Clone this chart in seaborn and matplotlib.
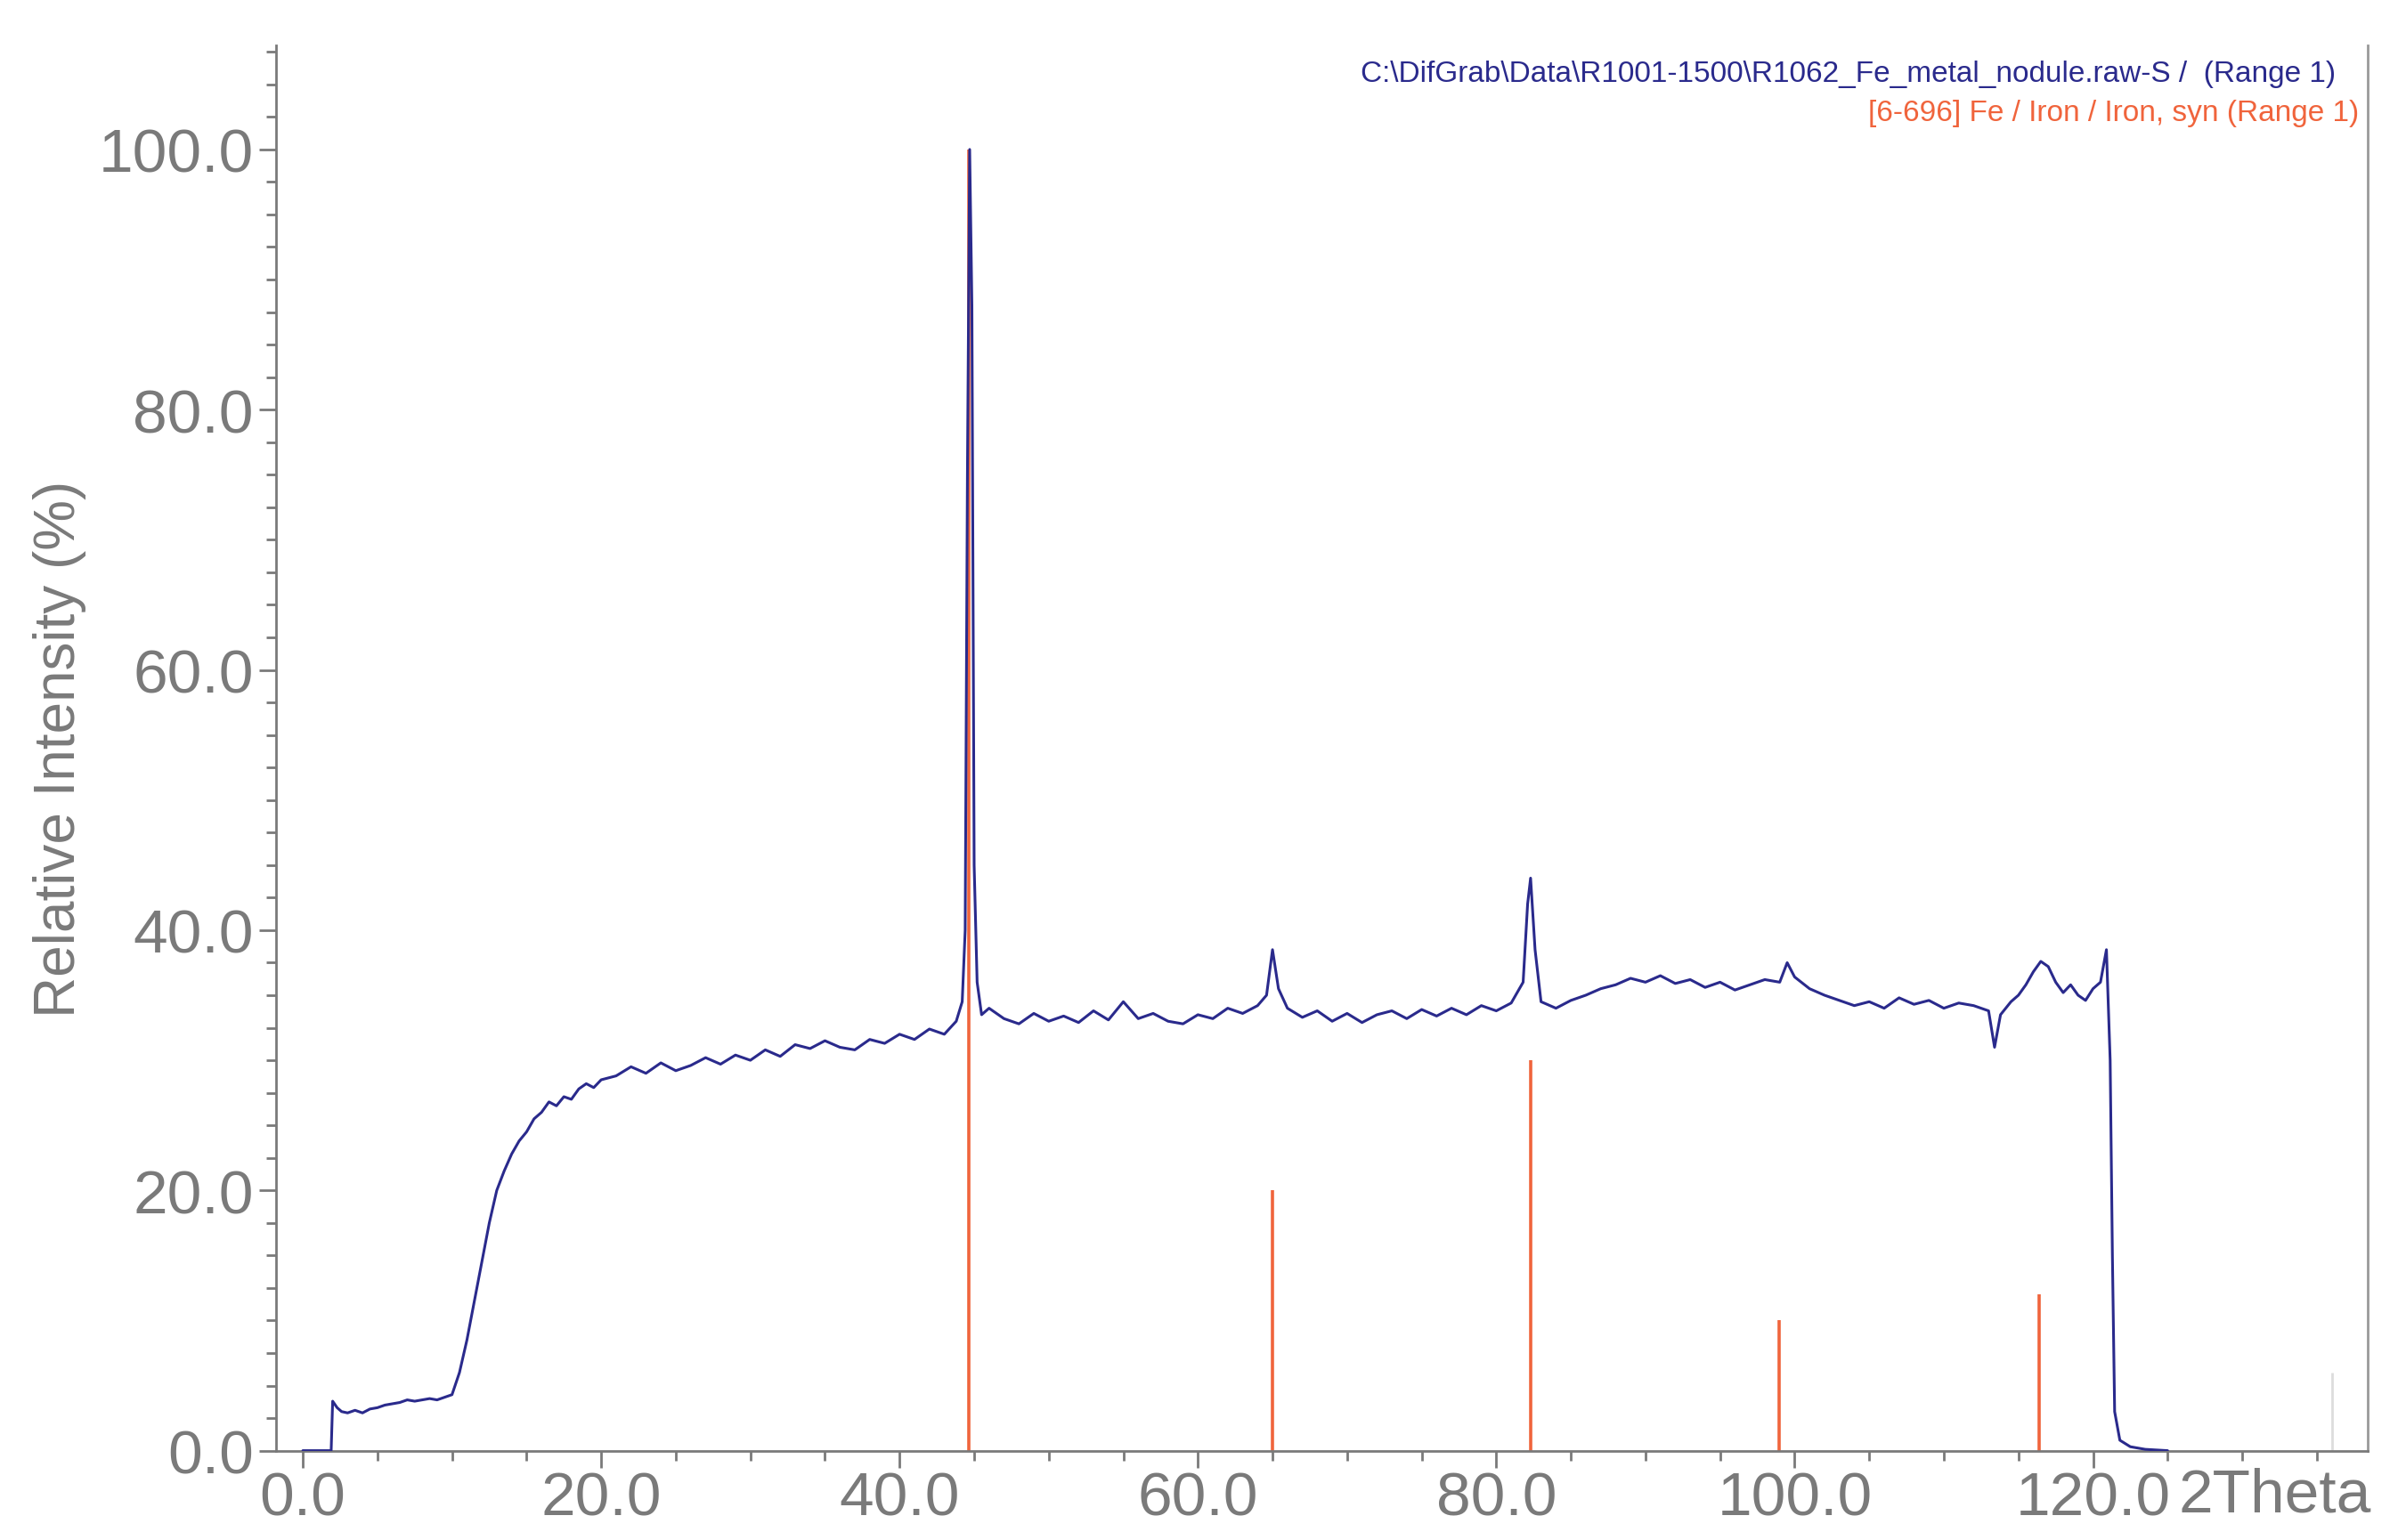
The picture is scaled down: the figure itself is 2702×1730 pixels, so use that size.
import matplotlib
matplotlib.use("Agg")
import matplotlib.pyplot as plt
import seaborn as sns
import pandas as pd
from matplotlib.ticker import MultipleLocator

sns.set_style("ticks")
plt.rcParams['font.family'] = ['Liberation Sans', 'DejaVu Sans']

two_theta = [0, 1.0, 1.9, 2.0, 2.3, 2.6, 3.0, 3.5, 4.0, 4.5, 5.0, 5.5, 6.0, 6.5, 7.0, 7.5, 8.0, 8.5, 9.0, 9.5, 10.0,
             10.5, 11.0, 11.5, 12.0, 12.5, 13.0, 13.5, 14.0, 14.5, 15.0, 15.5, 16.0, 16.5, 17.0, 17.5, 18.0, 18.5, 19.0, 19.5,
             20.0, 21.0, 22.0, 23.0, 24.0, 25.0, 26.0, 27.0, 28.0, 29.0, 30.0, 31.0, 32.0, 33.0, 34.0, 35.0, 36.0, 37.0,
             38.0, 39.0, 40.0, 41.0, 42.0, 43.0, 43.8, 44.2, 44.4, 44.55, 44.7, 44.85, 45.0, 45.2, 45.5, 46.0, 47.0, 48.0,
             49.0, 50.0, 51.0, 52.0, 53.0, 54.0, 55.0, 56.0, 57.0, 58.0, 59.0, 60.0, 61.0, 62.0, 63.0, 64.0, 64.6, 65.0,
             65.4, 66.0, 67.0, 68.0, 69.0, 70.0, 71.0, 72.0, 73.0, 74.0, 75.0, 76.0, 77.0, 78.0, 79.0, 80.0, 81.0, 81.8,
             82.1, 82.3, 82.6, 83.0, 84.0, 85.0, 86.0, 87.0, 88.0, 89.0, 90.0, 91.0, 92.0, 93.0, 94.0, 95.0, 96.0, 97.0,
             98.0, 99.0, 99.5, 100.0, 101.0, 102.0, 103.0, 104.0, 105.0, 106.0, 107.0, 108.0, 109.0, 110.0, 111.0, 112.0,
             113.0, 113.4, 113.8, 114.5, 115.0, 115.5, 116.0, 116.5, 117.0, 117.5, 118.0, 118.5, 119.0, 119.5, 120.0,
             120.5, 120.9, 121.15, 121.3, 121.45, 121.8, 122.5, 123.5, 125.0]
intensity = [0, 0, 0, 3.8, 3.3, 3.0, 2.9, 3.1, 2.9, 3.2, 3.3, 3.5, 3.6, 3.7, 3.9, 3.8, 3.9, 4.0, 3.9, 4.1, 4.3,
             6.0, 8.5, 11.5, 14.5, 17.5, 20.0, 21.5, 22.8, 23.8, 24.5, 25.5, 26.0, 26.8, 26.5, 27.2, 27.0, 27.8, 28.2, 27.9,
             28.5, 28.8, 29.5, 29.0, 29.8, 29.2, 29.6, 30.2, 29.7, 30.4, 30.0, 30.8, 30.3, 31.2, 30.9, 31.5, 31.0, 30.8,
             31.6, 31.3, 32.0, 31.6, 32.4, 32.0, 33.0, 34.5, 40.0, 75.0, 100.0, 88.0, 45.0, 36.0, 33.5, 34.0, 33.2, 32.8,
             33.6, 33.0, 33.4, 32.9, 33.8, 33.1, 34.5, 33.2, 33.6, 33.0, 32.8, 33.5, 33.2, 34.0, 33.6, 34.2, 35.0, 38.5,
             35.5, 34.0, 33.3, 33.8, 33.0, 33.6, 32.9, 33.5, 33.8, 33.2, 33.9, 33.4, 34.0, 33.5, 34.2, 33.8, 34.4, 36.0,
             42.0, 44.0, 38.5, 34.5, 34.0, 34.6, 35.0, 35.5, 35.8, 36.3, 36.0, 36.5, 35.9, 36.2, 35.6, 36.0, 35.4, 35.8,
             36.2, 36.0, 37.5, 36.4, 35.5, 35.0, 34.6, 34.2, 34.5, 34.0, 34.8, 34.3, 34.6, 34.0, 34.4, 34.2,
             33.8, 31.0, 33.5, 34.5, 35.0, 35.8, 36.8, 37.6, 37.2, 36.0, 35.2, 35.8, 35.0, 34.6, 35.5,
             36.0, 38.5, 30.0, 15.0, 3.0, 0.8, 0.3, 0.1, 0.0]

ref_positions = [44.67, 65.02, 82.33, 98.94, 116.38]
ref_intensities = [100, 20, 30, 10, 12]

gray = "#7a7a7a"
fig = plt.figure(figsize=(27.02, 17.31), dpi=100)
ax = fig.add_axes([0.1147, 0.058, 0.8693, 0.912])

ax.vlines(ref_positions, 0, ref_intensities, color="#f0643c", lw=2.6, zorder=2)
df = pd.DataFrame({"2Theta": two_theta, "I": intensity})
sns.lineplot(data=df, x="2Theta", y="I", ax=ax, color="#2a2a8c", lw=2.2, estimator=None, sort=False, zorder=3)
ax.vlines([136.0], 0, 6, color="#dddddd", lw=2)

ax.set_xlim(-1.8, 138.4)
ax.set_ylim(0, 108)
ax.xaxis.set_major_locator(MultipleLocator(20))
ax.xaxis.set_minor_locator(MultipleLocator(5))
ax.yaxis.set_major_locator(MultipleLocator(20))
ax.yaxis.set_minor_locator(MultipleLocator(2.5))
ax.xaxis.set_major_formatter(lambda v, p: f"{v:.1f}" if v <= 120 else "")
ax.yaxis.set_major_formatter(lambda v, p: f"{v:.1f}")
ax.tick_params(axis="both", which="both", colors=gray, labelcolor=gray, width=2, direction="out", labelsize=50,
               bottom=True, left=True, top=False, right=False)
ax.tick_params(which="major", length=14)
ax.tick_params(which="minor", length=8)
ax.tick_params(axis="y", pad=4)
ax.tick_params(axis="x", pad=2)
ax.set_xlabel("")
ax.set_ylabel("Relative Intensity (%)", fontsize=46, color=gray, labelpad=10)
ax.text(132.2, -1.2, "2Theta", fontsize=50, color=gray, ha="center", va="top")
for s in ["left", "bottom", "right"]:
    ax.spines[s].set_color(gray)
    ax.spines[s].set_linewidth(2)
ax.spines["top"].set_visible(False)
ax.spines["right"].set_color("#999999")

ax.text(0.985, 0.99, r"C:\DifGrab\Data\R1001-1500\R1062_Fe_metal_nodule.raw-S /  (Range 1)",
        transform=ax.transAxes, ha="right", va="top", fontsize=24, color="#2a2a8c")
ax.text(0.996, 0.962, "[6-696] Fe / Iron / Iron, syn (Range 1)",
        transform=ax.transAxes, ha="right", va="top", fontsize=24, color="#f0643c")

fig.savefig("out.png", dpi=100, facecolor="white")
